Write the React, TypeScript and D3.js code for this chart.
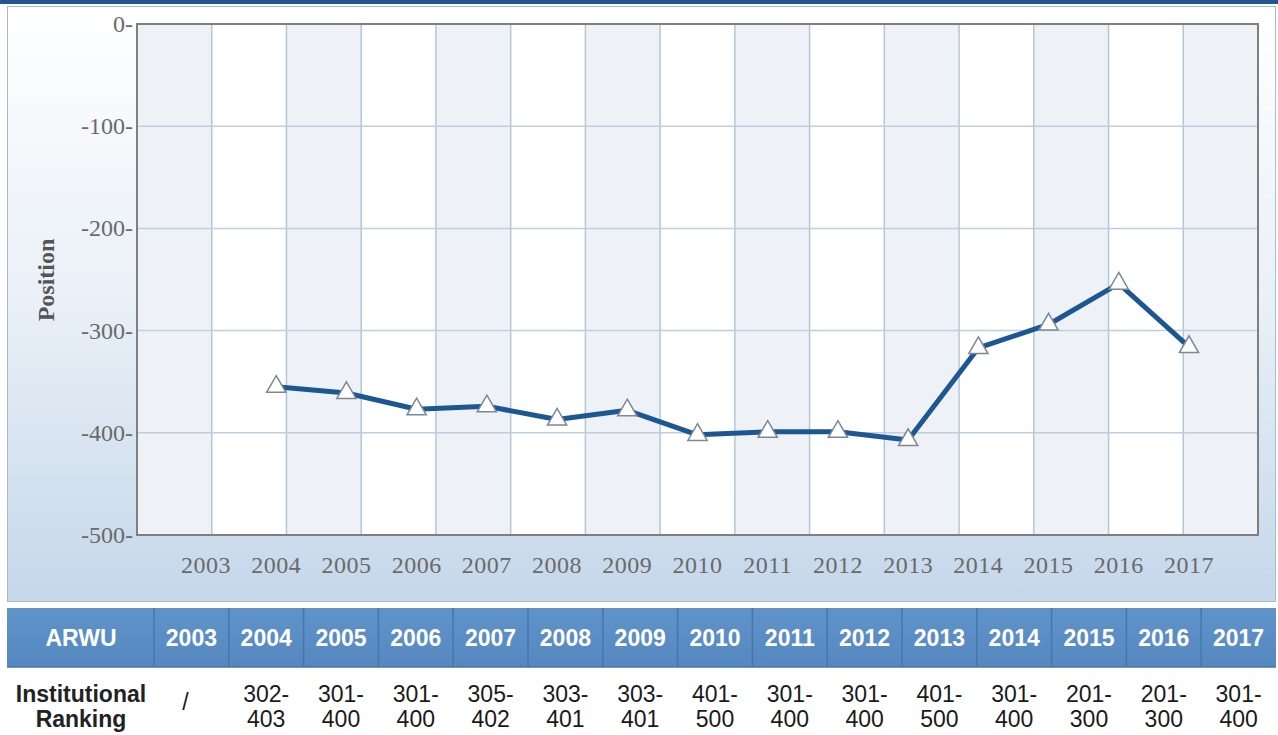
import React from "react";
import * as d3 from "d3";

const years = [2003, 2004, 2005, 2006, 2007, 2008, 2009, 2010, 2011, 2012, 2013, 2014, 2015, 2016, 2017];
// position per year (2003 has no ranking)
const positions: (number | null)[] = [null, -355, -361, -377, -374, -387, -378, -402, -399, -399, -407, -317, -294, -254, -316];
const yTicks = [0, -100, -200, -300, -400, -500];
const rankTop = ["/", "302-", "301-", "301-", "305-", "303-", "303-", "401-", "301-", "301-", "401-", "301-", "201-", "201-", "301-"];
const rankBottom = ["", "403", "400", "400", "402", "401", "401", "500", "400", "400", "500", "400", "300", "300", "400"];

const W = 1278;
const H = 735;
const plot = { left: 137, right: 1258, top: 24, bottom: 535 };

const serif = "'Liberation Serif', 'DejaVu Serif', serif";
const sans = "'Liberation Sans', Arial, sans-serif";

const App = () => {
  const x = d3.scalePoint<number>().domain(years).range([206, 1189]);
  const bands = d3.scaleBand<number>().domain(years).range([plot.left, plot.right]);
  const y = d3.scaleLinear().domain([-500, 0]).range([plot.bottom, plot.top]);

  const pts = years
    .map((yr, i) => ({ yr, v: positions[i] }))
    .filter((d) => d.v !== null) as { yr: number; v: number }[];

  const line = d3
    .line<{ yr: number; v: number }>()
    .x((d) => x(d.yr)!)
    .y((d) => y(d.v));

  const tri = d3.symbol().type(d3.symbolTriangle).size(160)();

  // table columns
  const colX = d3.scaleBand<number>().domain(years).range([154, 1276]);
  const headTop = 608;
  const headBottom = 667;

  return (
    <svg width={W} height={H} style={{ display: "block", position: "absolute", left: 0, top: 0 }}>
      <defs>
        <linearGradient id="panelBg" x1="0" y1="0" x2="0" y2="1">
          <stop offset="0" stopColor="#ffffff" />
          <stop offset="0.5" stopColor="#e9f0f7" />
          <stop offset="1" stopColor="#c5d7ea" />
        </linearGradient>
        <linearGradient id="headBg" x1="0" y1="0" x2="0" y2="1">
          <stop offset="0" stopColor="#5f93c9" />
          <stop offset="1" stopColor="#5588bf" />
        </linearGradient>
      </defs>
      <rect x={0} y={0} width={W} height={H} fill="#ffffff" />
      {/* top bar */}
      <rect x={0} y={0} width={W} height={4} fill="#24568f" />
      {/* chart panel */}
      <rect x={7.5} y={6.5} width={1268} height={595} fill="url(#panelBg)" stroke="#a8bccf" />

      {/* plot background bands */}
      {years.map((yr, i) => (
        <rect
          key={yr}
          x={bands(yr)}
          y={plot.top}
          width={bands.bandwidth()}
          height={plot.bottom - plot.top}
          fill={i % 2 === 0 ? "#eef2f6" : "#ffffff"}
        />
      ))}
      {/* grid */}
      {years.slice(1).map((yr) => (
        <line key={yr} x1={bands(yr)} x2={bands(yr)} y1={plot.top} y2={plot.bottom} stroke="#b3c7da" strokeWidth={1.5} />
      ))}
      {yTicks.slice(1, -1).map((t) => (
        <line key={t} x1={plot.left} x2={plot.right} y1={y(t)} y2={y(t)} stroke="#bccfe1" strokeWidth={1.5} />
      ))}
      <rect
        x={plot.left}
        y={plot.top}
        width={plot.right - plot.left}
        height={plot.bottom - plot.top}
        fill="none"
        stroke="#7f7f7f"
        strokeWidth={2}
      />

      {/* y axis labels */}
      {yTicks.map((t) => (
        <text key={t} x={133} y={y(t)} dy="0.33em" textAnchor="end" fontFamily={serif} fontSize={24} fill="#6a6a6a">
          {t}-
        </text>
      ))}
      <text
        transform={`translate(54,280) rotate(-90)`}
        textAnchor="middle"
        fontFamily={serif}
        fontWeight="bold"
        fontSize={24}
        fill="#555"
      >
        Position
      </text>

      {/* x axis labels */}
      {years.map((yr) => (
        <text
          key={yr}
          x={x(yr)}
          y={573}
          textAnchor="middle"
          fontFamily={serif}
          fontSize={24}
          letterSpacing={0.5}
          fill="#6a6a6a"
        >
          {yr}
        </text>
      ))}

      {/* series */}
      <path d={line(pts) ?? ""} fill="none" stroke="#1c5793" strokeWidth={5} strokeLinejoin="round" />
      {pts.map((d) => (
        <path
          key={d.yr}
          d={tri ?? ""}
          transform={`translate(${x(d.yr)},${y(d.v)})`}
          fill="#ffffff"
          stroke="#7b8896"
          strokeWidth={1.5}
        />
      ))}

      {/* table header */}
      <rect x={7} y={headTop} width={1269} height={headBottom - headTop} fill="url(#headBg)" />
      {years.map((yr) => (
        <line
          key={yr}
          x1={colX(yr)}
          x2={colX(yr)}
          y1={headTop}
          y2={headBottom}
          stroke="#4776aa"
          strokeWidth={1.5}
        />
      ))}
      <line x1={7} x2={1276} y1={headBottom} y2={headBottom} stroke="#4776aa" strokeWidth={1.5} />
      <text x={81} y={646} textAnchor="middle" fontFamily={sans} fontWeight="bold" fontSize={23} fill="#ffffff">
        ARWU
      </text>
      {years.map((yr) => (
        <text
          key={yr}
          x={colX(yr)! + colX.bandwidth() / 2}
          y={646}
          textAnchor="middle"
          fontFamily={sans}
          fontWeight="bold"
          fontSize={23}
          fill="#ffffff"
        >
          {yr}
        </text>
      ))}

      {/* table body */}
      <text x={81} y={702} textAnchor="middle" fontFamily={sans} fontWeight="bold" fontSize={23} fill="#222">
        Institutional
      </text>
      <text x={81} y={727} textAnchor="middle" fontFamily={sans} fontWeight="bold" fontSize={23} fill="#222">
        Ranking
      </text>
      {years.map((yr, i) => (
        <g key={yr} fontFamily={sans} fontSize={23} fill="#1a1a1a" textAnchor="middle">
          <text x={colX(yr)! + colX.bandwidth() / 2 + (i === 0 ? -6 : 0)} y={rankBottom[i] ? 702 : 710}>
            {rankTop[i]}
          </text>
          <text x={colX(yr)! + colX.bandwidth() / 2} y={727}>
            {rankBottom[i]}
          </text>
        </g>
      ))}
    </svg>
  );
};

export default App;
